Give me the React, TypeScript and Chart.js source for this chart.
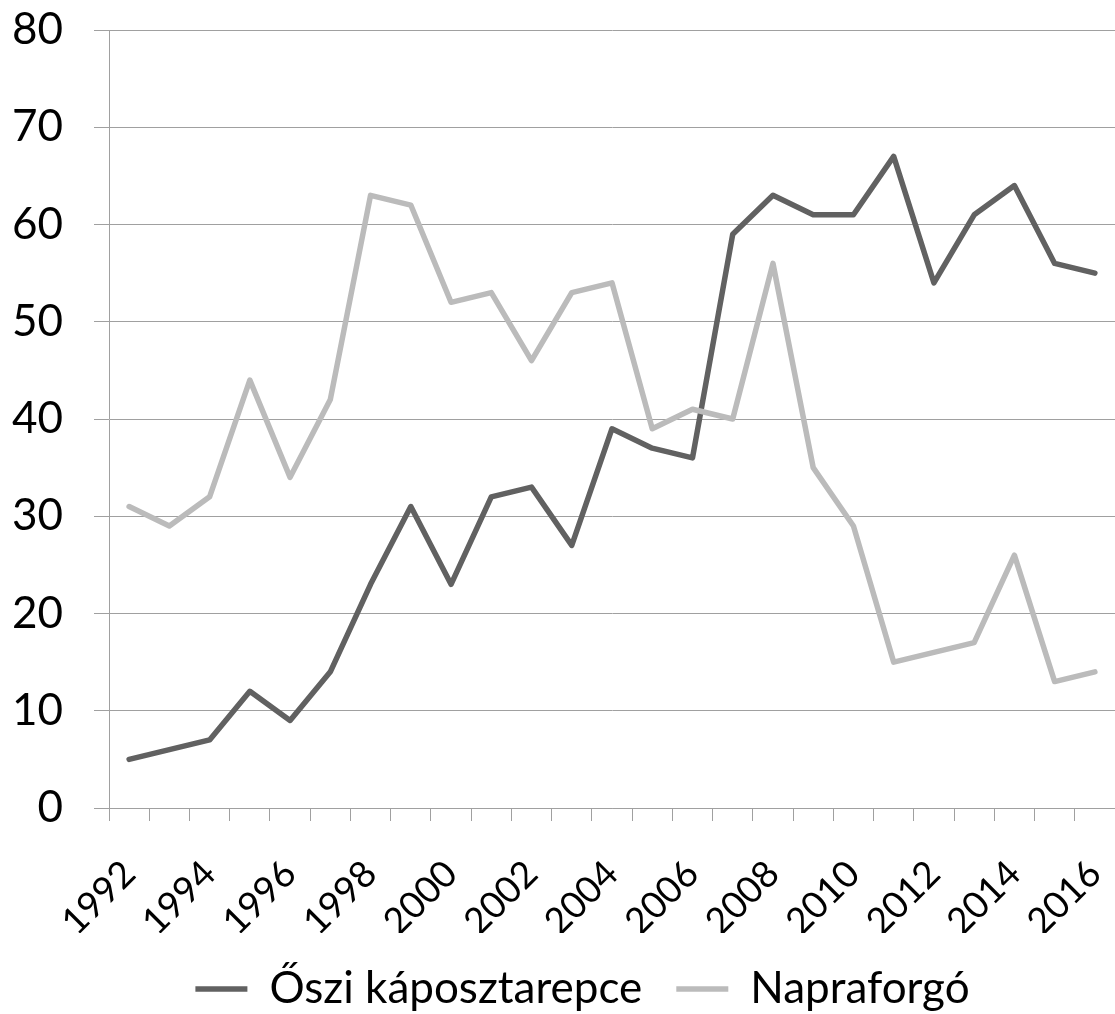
import React, { useEffect, useRef } from "react";
import { Chart, registerables } from "chart.js";

Chart.register(...registerables);

const years: string[] = [
  "1992", "1993", "1994", "1995", "1996", "1997", "1998", "1999", "2000",
  "2001", "2002", "2003", "2004", "2005", "2006", "2007", "2008", "2009",
  "2010", "2011", "2012", "2013", "2014", "2015", "2016",
];

const repce: number[] = [
  5, 6, 7, 12, 9, 14, 23, 31, 23, 32, 33, 27, 39, 37, 36, 59, 63, 61, 61, 67,
  54, 61, 64, 56, 55,
];

const napraforgo: number[] = [
  31, 29, 32, 44, 34, 42, 63, 62, 52, 53, 46, 53, 54, 39, 41, 40, 56, 35, 29,
  15, 16, 17, 26, 13, 14,
];

const seriesNames: string[] = ["Őszi káposztarepce", "Napraforgó"];
const yMin = 0;
const yMax = 80;
const yStep = 10;

const FONT = "Lato, 'Liberation Sans', sans-serif";
const GRID = "#A0A0A0";

export default function App() {
  const ref = useRef<HTMLCanvasElement | null>(null);

  useEffect(() => {
    document.body.style.margin = "0";
    const canvas = ref.current;
    if (!canvas) return;

    const legendShift = {
      id: "legendShift",
      afterLayout(chart: any) {
        if (chart.legend) {
          chart.legend.left += 25;
          chart.legend.right += 25;
        }
      },
    };

    const chart = new Chart(canvas, {
      type: "line",
      data: {
        labels: years,
        datasets: [
          {
            label: seriesNames[0],
            data: repce,
            order: 1,
            borderColor: "#616161",
            backgroundColor: "#616161",
            borderWidth: 5.5,
            pointRadius: 0,
            tension: 0,
            borderCapStyle: "round",
            borderJoinStyle: "round",
          },
          {
            label: seriesNames[1],
            data: napraforgo,
            order: 0,
            borderColor: "#BBBBBB",
            backgroundColor: "#BBBBBB",
            borderWidth: 5.5,
            pointRadius: 0,
            tension: 0,
            borderCapStyle: "round",
            borderJoinStyle: "round",
          },
        ],
      },
      options: {
        responsive: false,
        animation: false,
        devicePixelRatio: 1,
        layout: { padding: { left: 0, right: 0, top: 30, bottom: -7 } },
        font: { family: FONT },
        plugins: {
          tooltip: { enabled: false },
          legend: {
            position: "bottom",
            labels: {
              usePointStyle: true,
              pointStyle: "line",
              pointStyleWidth: 52,
              padding: 34,
              color: "#000",
              font: { family: FONT, size: 44 },
              sort: (a: any, b: any) => a.datasetIndex - b.datasetIndex,
            },
          },
        },
        scales: {
          x: {
            offset: true,
            grid: {
              drawOnChartArea: false,
              drawTicks: true,
              tickLength: 13,
              offset: true,
              color: GRID,
              lineWidth: 1,
            },
            border: { display: true, color: GRID, width: 1 },
            ticks: {
              autoSkip: false,
              maxRotation: 45,
              minRotation: 45,
              padding: 31,
              color: "#000",
              font: { family: FONT, size: 37 },
              callback: (_v: any, i: number) => (i % 2 === 0 ? years[i] : ""),
            },
            afterFit: (scale: any) => {
              scale.height = 125;
              scale.paddingRight = 0;
              scale.paddingLeft = 0;
            },
          },
          y: {
            min: yMin,
            max: yMax,
            grid: {
              color: GRID,
              lineWidth: 1,
              tickLength: 15,
            },
            border: { display: true, color: GRID, width: 1 },
            ticks: {
              stepSize: yStep,
              padding: 31,
              color: "#000",
              font: { family: FONT, size: 44 },
            },
            afterFit: (scale: any) => {
              scale.width = 109;
              scale.paddingTop = 0;
              scale.paddingBottom = 0;
            },
          },
        },
      },
      plugins: [legendShift],
    });

    return () => chart.destroy();
  }, []);

  return (
    <div style={{ position: "absolute", left: 0, top: 0, width: 1115, height: 1014 }}>
      <canvas ref={ref} width={1115} height={1014} style={{ display: "block" }} />
    </div>
  );
}
